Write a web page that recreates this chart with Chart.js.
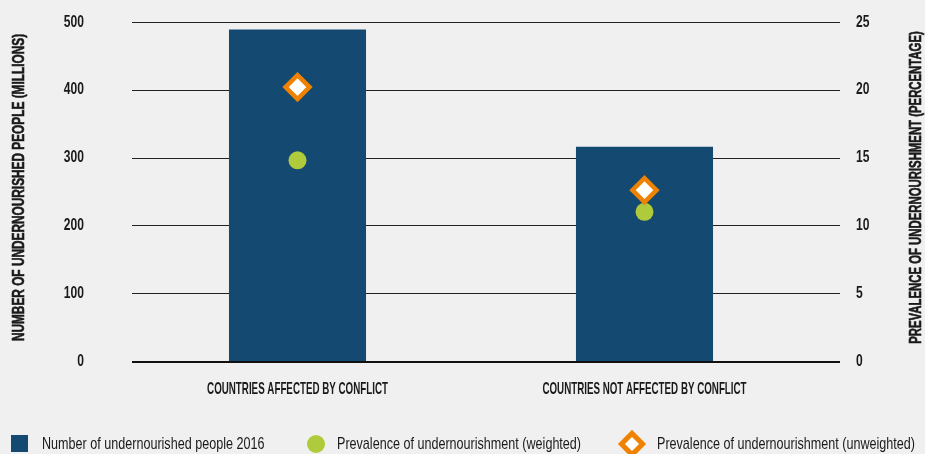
<!DOCTYPE html>
<html>
<head>
<meta charset="utf-8">
<script src="https://cdn.jsdelivr.net/npm/chart.js"></script>
<style>
    html, body { margin: 0; padding: 0; background: #f0f0f0; }
    #wrap { position: relative; width: 925px; height: 454px; }
    #legend { position: absolute; left: 0; top: 0; width: 925px; height: 454px; pointer-events: none; }
    #legend .mk, #legend .txt { position: absolute; }
    #legend .txt {
        font-family: "Liberation Sans", sans-serif; font-size: 17px; line-height: 20px; color: #1a1a1a;
        white-space: nowrap; transform: scaleX(0.74); transform-origin: 0 50%;
    }
</style>
</head>
<body>
<div id="wrap">
    <canvas id="chart" width="925" height="454"></canvas>
    <div id="legend"></div>
</div>
<script>
// dados
const categories = ['COUNTRIES AFFECTED BY CONFLICT', 'COUNTRIES NOT AFFECTED BY CONFLICT'];
const undernourished = [489, 316];          // milhões
const prevalenceWeighted = [14.8, 11.0];    // %
const prevalenceUnweighted = [20.2, 12.6];  // %
const leftTicks = [0, 100, 200, 300, 400, 500];
const rightTicks = [0, 5, 10, 15, 20, 25];

const BLUE = '#144a72';
const GREEN = '#afca3a';
const ORANGE = '#ef8200';
const TEXT = '#1a1a1a';
const FAMILY = "'Liberation Sans', sans-serif";

// texto estreito (a fonte original é condensada)
function narrowText(ctx, text, x, y, font, sx, align, rot, heavy) {
    ctx.save();
    ctx.translate(x, y);
    if (rot) ctx.rotate(rot);
    ctx.scale(sx, 1);
    ctx.font = font;
    ctx.fillStyle = TEXT;
    ctx.textAlign = align;
    ctx.textBaseline = 'middle';
    ctx.fillText(text, 0, 0);
    if (heavy) {
        ctx.strokeStyle = TEXT;
        ctx.lineWidth = 0.6;
        ctx.strokeText(text, 0, 0);
    }
    ctx.restore();
}

// linhas horizontais da grade (passam um pouco além da área das barras)
const gridLines = {
    id: 'gridLines',
    beforeDatasetsDraw(chart) {
        const { ctx, chartArea } = chart;
        const y = chart.scales.y;
        ctx.save();
        ctx.strokeStyle = '#222';
        ctx.lineWidth = 1;
        y.ticks.forEach(t => {
            if (t.value === 0) return;
            const py = Math.round(y.getPixelForValue(t.value)) + 0.5;
            ctx.beginPath();
            ctx.moveTo(chartArea.left + 8, py);
            ctx.lineTo(chartArea.right + 22, py);
            ctx.stroke();
        });
        ctx.restore();
    },
    afterDatasetsDraw(chart) {
        const { ctx, chartArea } = chart;
        const py = chart.scales.y.getPixelForValue(0) + 1;
        ctx.save();
        ctx.strokeStyle = '#111';
        ctx.lineWidth = 2;
        ctx.beginPath();
        ctx.moveTo(chartArea.left + 8, py);
        ctx.lineTo(chartArea.right + 22, py);
        ctx.stroke();
        ctx.restore();
    }
};

// rótulos dos eixos e títulos, desenhados a partir das escalas
const axisText = {
    id: 'axisText',
    afterDraw(chart) {
        const { ctx, chartArea } = chart;
        const { x, y, y1 } = chart.scales;
        const tickFont = 'bold 17px ' + FAMILY;
        y.ticks.forEach(t => narrowText(ctx, String(t.value), chartArea.left - 40, y.getPixelForValue(t.value), tickFont, 0.71, 'right'));
        y1.ticks.forEach(t => narrowText(ctx, String(t.value), chartArea.right + 38, y1.getPixelForValue(t.value), tickFont, 0.71, 'left'));
        categories.forEach((c, i) => narrowText(ctx, c, x.getPixelForValue(i), chartArea.bottom + 28, 'bold 17px ' + FAMILY, 0.575, 'center'));
        const midY = (chartArea.top + chartArea.bottom) / 2 - 4;
        narrowText(ctx, y.options.title.text, 20, midY, 'bold 16px ' + FAMILY, 0.74, 'center', -Math.PI / 2, true);
        narrowText(ctx, y1.options.title.text, 917, midY, 'bold 16px ' + FAMILY, 0.71, 'center', -Math.PI / 2, true);
    }
};

// legenda em HTML a partir dos datasets
const legendPos = [
    { mark: 11, text: 42 },
    { mark: 315.5, text: 337 },
    { mark: 632, text: 657 }
];
const htmlLegend = {
    id: 'htmlLegend',
    afterUpdate(chart) {
        const box = document.getElementById('legend');
        box.innerHTML = '';
        const cy = 443.5;
        chart.data.datasets.forEach((ds, i) => {
            const p = legendPos[i];
            const mk = document.createElement('div');
            mk.className = 'mk';
            if (ds.type === 'bar') {
                Object.assign(mk.style, { left: p.mark + 'px', top: (cy - 8.5) + 'px', width: '17px', height: '17px', background: ds.backgroundColor });
            } else if (ds.pointStyle === 'circle') {
                Object.assign(mk.style, { left: (p.mark - 9) + 'px', top: (cy - 9) + 'px', width: '18px', height: '18px', borderRadius: '50%', background: ds.backgroundColor });
            } else {
                Object.assign(mk.style, { left: (p.mark - 10) + 'px', top: (cy - 10) + 'px', width: '20px', height: '20px', boxSizing: 'border-box', border: '5px solid ' + ds.borderColor, background: '#fff', transform: 'rotate(45deg)' });
            }
            const txt = document.createElement('div');
            txt.className = 'txt';
            txt.textContent = ds.label;
            Object.assign(txt.style, { left: p.text + 'px', top: (cy - 10) + 'px' });
            box.appendChild(mk);
            box.appendChild(txt);
        });
    }
};

const ctx = document.getElementById('chart').getContext('2d');
new Chart(ctx, {
    data: {
        labels: categories,
        datasets: [{
            type: 'bar',
            label: 'Number of undernourished people 2016',
            data: undernourished,
            backgroundColor: BLUE,
            categoryPercentage: 1,
            barPercentage: 0.395,
            yAxisID: 'y',
            order: 3
        }, {
            type: 'line',
            label: 'Prevalence of undernourishment (weighted)',
            data: prevalenceWeighted,
            showLine: false,
            pointStyle: 'circle',
            pointRadius: 9,
            backgroundColor: GREEN,
            borderColor: GREEN,
            pointBorderWidth: 0,
            yAxisID: 'y1',
            order: 2
        }, {
            type: 'line',
            label: 'Prevalence of undernourishment (unweighted)',
            data: prevalenceUnweighted,
            showLine: false,
            pointStyle: 'rectRot',
            pointRadius: 12,
            pointBorderWidth: 4.5,
            backgroundColor: '#ffffff',
            borderColor: ORANGE,
            yAxisID: 'y1',
            order: 1
        }]
    },
    options: {
        responsive: false,
        animation: false,
        layout: { padding: { top: 22, left: 0, right: 0, bottom: 0 } },
        plugins: {
            legend: { display: false },
            tooltip: { enabled: false }
        },
        scales: {
            x: {
                offset: true,
                grid: { display: false, drawTicks: false },
                border: { display: false },
                ticks: { display: false },
                afterFit(scale) { scale.height = 93; }
            },
            y: {
                position: 'left',
                min: 0,
                max: 500,
                afterBuildTicks(scale) { scale.ticks = leftTicks.map(v => ({ value: v })); },
                grid: { display: false, drawTicks: false },
                border: { display: false },
                ticks: { display: false },
                title: { display: false, text: 'NUMBER OF UNDERNOURISHED PEOPLE (MILLIONS)' },
                afterFit(scale) { scale.width = 124; }
            },
            y1: {
                position: 'right',
                min: 0,
                max: 25,
                afterBuildTicks(scale) { scale.ticks = rightTicks.map(v => ({ value: v })); },
                grid: { display: false, drawTicks: false },
                border: { display: false },
                ticks: { display: false },
                title: { display: false, text: 'PREVALENCE OF UNDERNOURISHMENT (PERCENTAGE)' },
                afterFit(scale) { scale.width = 107; }
            }
        }
    },
    plugins: [gridLines, axisText, htmlLegend]
});
</script>
</body>
</html>
